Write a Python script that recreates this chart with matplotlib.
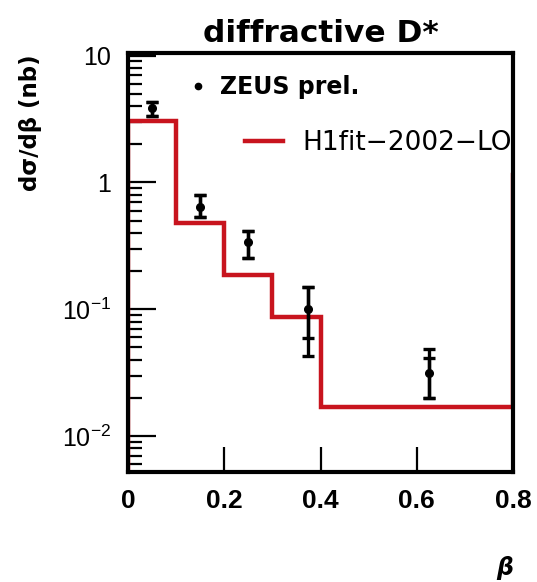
import numpy as np
import matplotlib
matplotlib.use("Agg")
from matplotlib import pyplot as plt
from matplotlib.lines import Line2D

plt.rcParams['font.family'] = ['Liberation Sans', 'DejaVu Sans']
plt.rcParams['mathtext.fontset'] = 'custom'
plt.rcParams['mathtext.rm'] = 'Liberation Sans'

# ZEUS preliminary points: beta, value, total errors, stat errors
beta = [0.05, 0.15, 0.25, 0.375, 0.625]
xsec = [3.85, 0.638, 0.34, 0.10, 0.0316]
tot_up = [4.3, 0.79, 0.414, 0.151, 0.0488]
tot_lo = [3.34, 0.533, 0.255, 0.043, 0.0198]
stat_up = [4.3, 0.79, 0.414, 0.151, 0.0414]
stat_lo = [3.34, 0.533, 0.255, 0.059, 0.0198]

# H1fit-2002-LO prediction (histogram)
fit_edges = [0.0, 0.1, 0.2, 0.3, 0.4, 0.8, 1.0]
fit_vals = [3.05, 0.48, 0.187, 0.0866, 0.0169, 1.15]

xticks = [0, 0.2, 0.4, 0.6, 0.8]
yticks = [1e-2, 1e-1, 1, 10]
ylabels = [r'$10^{-2}$', r'$10^{-1}$', '1', '10']

red = '#c8141e'
wide = 'DejaVu Sans'

fig = plt.figure(figsize=(5.37, 5.82), dpi=100)
ax = fig.add_axes([128 / 537, 1 - 472 / 582, 385 / 537, 419 / 582])

ax.stairs(fit_vals, fit_edges, baseline=1e-4, color=red, lw=3.2, zorder=2)

xsec = np.array(xsec)
yerr_tot = [xsec - np.array(tot_lo), np.array(tot_up) - xsec]
yerr_stat = [xsec - np.array(stat_lo), np.array(stat_up) - xsec]
ax.errorbar(beta, xsec, yerr=yerr_tot, fmt='o', color='black', ms=5.5,
            elinewidth=2.4, capsize=4.5, capthick=2.4, zorder=3)
ax.errorbar(beta, xsec, yerr=yerr_stat, fmt='none', ecolor='black',
            elinewidth=2.4, capsize=4.5, capthick=2.4, zorder=3)

ax.set_yscale('log')
ax.set_xlim(0, 0.8)
ax.set_ylim(0.0052, 10.5)

ax.set_xticks(xticks)
ax.set_xticklabels(['0', '0.2', '0.4', '0.6', '0.8'], fontsize=19,
                   fontweight='bold')
ax.set_yticks(yticks)
ax.set_yticklabels(ylabels, fontsize=18)
ax.tick_params(axis='x', direction='in', length=18, width=1.6, pad=12,
               top=False)
ax.tick_params(axis='y', which='major', direction='in', length=20,
               width=1.6, pad=12, right=False)
ax.tick_params(axis='y', which='minor', direction='in', length=10,
               width=1.6, right=False)

for sp in ax.spines.values():
    sp.set_linewidth(3)
    sp.set_zorder(5)

ax.set_title('diffractive D*', fontsize=22.5, fontweight='bold', pad=8,
             family=wide)

fig.text(0.056, 0.79, 'dσ/dβ (nb)', rotation=90, fontsize=16.5,
         fontweight='bold', ha='center', va='center', family=wide)
fig.text(0.94, 0.024, 'β', fontsize=17, fontweight='bold', style='italic',
         ha='center', va='center', family=wide)

zeus_h = Line2D([], [], marker='o', ls='none', color='black', ms=4.5)
leg1 = ax.legend([zeus_h], ['ZEUS prel.'], loc='center left',
                 bbox_to_anchor=(0.156, 0.919), frameon=False,
                 borderpad=0, borderaxespad=0, handlelength=0.85,
                 handletextpad=0.5,
                 prop={'size': 17, 'weight': 'bold', 'family': wide})
ax.add_artist(leg1)
fit_h = Line2D([], [], color=red, lw=3.2)
ax.legend([fit_h], ['H1fit−2002−LO'], loc='center left',
          bbox_to_anchor=(0.304, 0.785), frameon=False, borderpad=0,
          borderaxespad=0, handlelength=1.45, handletextpad=0.72,
          prop={'size': 19, 'family': wide})

fig.savefig('out.png', dpi=100)
